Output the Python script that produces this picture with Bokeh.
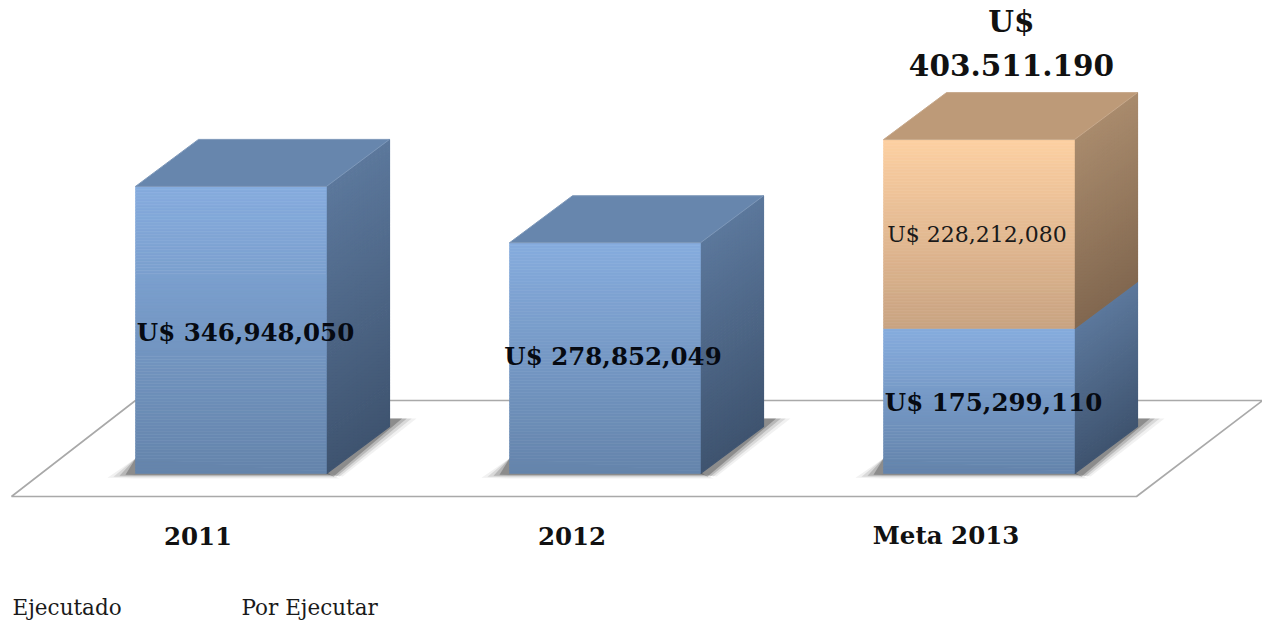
from bokeh.plotting import figure
from bokeh.embed import file_html
from bokeh.resources import INLINE
from bokeh.models import Range1d
from bokeh.core.properties import value

categories = ["2011", "2012", "Meta 2013"]
ejecutado = [346948050, 278852049, 175299110]
por_ejecutar = [0, 0, 228212080]
ejecutado_labels = ["U$ 346,948,050", "U$ 278,852,049", "U$ 175,299,110"]
por_ejecutar_label = "U$ 228,212,080"
total_label = "U$\n403.511.190"
legend_labels = ["Ejecutado", "Por Ejecutar"]

W, H = 1262, 621
OX, OY = 0, 0
X0, SP = 230.5, 374.0        # picture x of first bar centre, spacing
Y0, K = 473.0, 0.8275e-6     # picture y of the base, px per unit
BW = 191 / SP                # bar width in x units


def dx(px):
    return px / SP


def dy(px):
    return px / K


def X(page):
    return (page - X0) / SP


def Y(page):
    return (Y0 - page) / K


DX, DY = dx(63), dy(47)

p = figure(width=W, height=H, output_backend="svg", toolbar_location=None,
           x_range=Range1d(X(OX), X(OX + W)), y_range=Range1d(Y(OY + H), Y(OY)),
           min_border=0, outline_line_color=None, background_fill_color="white",
           border_fill_color="white")
p.axis.visible = False
p.grid.visible = False


def mix(a, b, t):
    return "#%02x%02x%02x" % tuple(round(a[i] + (b[i] - a[i]) * t) for i in range(3))


BLUE = dict(front=((0x86, 0xAC, 0xDE), (0x64, 0x84, 0xAB)),
            side=((0x5C, 0x78, 0x9C), (0x3F, 0x54, 0x70)),
            top=(0x67, 0x86, 0xAD))
PEACH = dict(front=((0xFD, 0xD0, 0xA2), (0xC9, 0xA3, 0x82)),
             side=((0xA9, 0x8B, 0x6D), (0x82, 0x68, 0x50)),
             top=(0xBD, 0x9A, 0x78))

# floor
fx = [X(11), X(1136), X(1262), X(135)]
fy = [Y(496), Y(496), Y(400), Y(400)]
p.patch(fx, fy, fill_color="white", line_color="#a9a9a9", line_width=1.6)

# soft shadows
for i, c in enumerate(categories):
    x1 = i + BW / 2
    x0 = i - BW / 2
    for g, a in [(10, 0.07), (7, 0.12), (4, 0.2), (1, 0.32)]:
        # to the right of the side face
        p.patch([x1, x1 + dx(63), x1 + dx(63), x1 + dx(74 + 1.6 * g), x1 + dx(6 + g)],
                [dy(0), dy(47), dy(55), dy(55), dy(-3)],
                fill_color="#333333", fill_alpha=a, line_color=None)
        # under and to the left of the front face
        p.patch([x0 - dx(8 + 2 * g), x0, x1 + dx(3 + g), x1, x0],
                [dy(-1 - g / 3), dy(-1 - g / 2.5), dy(-1 - g / 2.5), dy(1), dy(15)],
                fill_color="#333333", fill_alpha=a, line_color=None)


def segment(i, bottom, height, col, last):
    x0, x1 = i - BW / 2, i + BW / 2
    top = bottom + height
    n = max(8, round(height * K / 3))
    # side face
    sx, sy, sc = [], [], []
    for k in range(n):
        a, b = top - height * k / n, top - height * (k + 1) / n
        sx.append([x1, x1 + DX, x1 + DX, x1])
        sy.append([a, a + DY, b + DY, b])
        sc.append(mix(col["side"][0], col["side"][1], (k + 0.5) / n))
    p.patches(sx, sy, fill_color=sc, line_color=sc, line_width=1.2)
    # front face
    lo, hi, fc = [], [], []
    for k in range(n):
        hi.append(top - height * k / n)
        lo.append(top - height * (k + 1) / n)
        fc.append(mix(col["front"][0], col["front"][1], (k + 0.5) / n))
    p.quad(left=x0, right=x1, bottom=lo, top=hi, fill_color=fc, line_color=fc, line_width=0.6)
    if last:
        p.patch([x0, x0 + DX, x1 + DX, x1], [top, top + DY, top + DY, top],
                fill_color=mix(col["top"], col["top"], 0),
                line_color=mix(col["top"], (255, 255, 255), 0.15), line_width=1)


for i in range(len(categories)):
    segment(i, 0, ejecutado[i], BLUE, por_ejecutar[i] == 0)
    if por_ejecutar[i]:
        segment(i, ejecutado[i], por_ejecutar[i], PEACH, True)

SERIF = value("DejaVu Serif")

# labels of the blue segments
lab_off = [14.5, 8, 14.5]
lab_voff = [3, -2, 2]
for i, t in enumerate(ejecutado_labels):
    p.text([i], [ejecutado[i] / 2], text=[t], text_font=SERIF, text_font_style="bold",
           text_font_size="24.5px", text_color="#060a12", text_align="center",
           text_baseline="middle", x_offset=lab_off[i], y_offset=lab_voff[i])

# label of the peach segment
p.text([2], [ejecutado[2] + por_ejecutar[2] / 2], text=[por_ejecutar_label], text_font=SERIF,
       text_font_size="22px", text_color="#1a1a1a", text_align="center", text_baseline="middle",
       x_offset=-2, y_offset=0)

# total
tot = ejecutado[2] + por_ejecutar[2]
p.text([2], [tot], text=[total_label], text_font=SERIF, text_font_style="bold",
       text_font_size="29.5px", text_color="#111111", text_align="center", text_baseline="middle",
       x_offset=32.5, y_offset=-96, text_line_height=1.27)

# category labels
p.text(list(range(3)), [Y(535)] * 3, text=categories, text_font=SERIF, text_font_style="bold",
       text_font_size="24.5px", text_color="#111111", text_align="center", text_baseline="middle",
       x_offset=-33)

# legend labels
p.text([X(12), X(241)], [Y(607)] * 2, text=legend_labels, text_font=SERIF,
       text_font_size="21.5px", text_color="#1a1a1a", text_align="left", text_baseline="middle")

open("out.html", "w").write(file_html(p, INLINE))
